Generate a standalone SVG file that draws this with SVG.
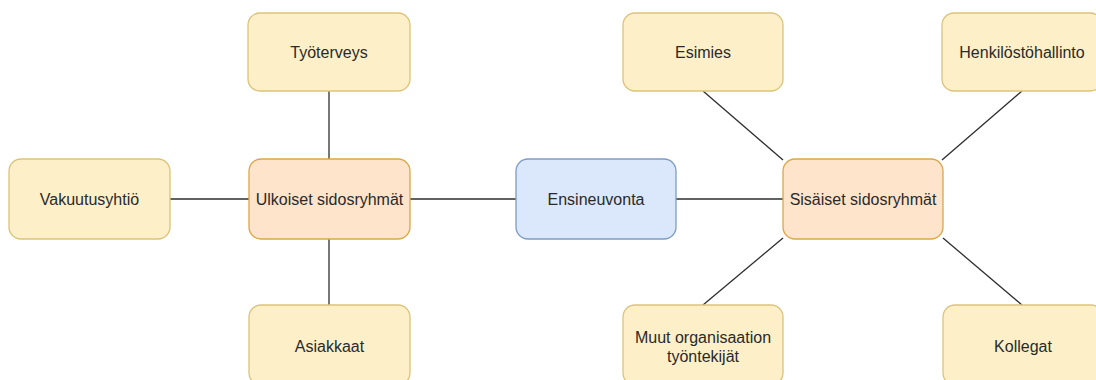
<svg xmlns="http://www.w3.org/2000/svg" width="1096" height="380" viewBox="0 0 1096 380">
<style>
.y{fill:#fdf0c9;stroke:#dcc37a;stroke-width:1.3}
.o{fill:#fde4cb;stroke:#dca64a;stroke-width:1.3}
.b{fill:#dbe8fb;stroke:#7f9cc4;stroke-width:1.3}
text{font-family:"Liberation Sans",Arial,sans-serif;font-size:16px;fill:#2a2a2a;text-anchor:middle;dominant-baseline:central}
.c line{stroke:#2e2e2e;stroke-width:1.3}
</style>
<rect width="1096" height="380" fill="#ffffff"/>
<g class="c" id="connectors">
<line x1="329" y1="91" x2="329" y2="159"/>
<line x1="170" y1="199" x2="249" y2="199"/>
<line x1="410" y1="199" x2="516" y2="199"/>
<line x1="676" y1="199" x2="783" y2="199"/>
<line x1="329" y1="239" x2="329" y2="305"/>
<line x1="703" y1="91" x2="783" y2="160"/>
<line x1="1022" y1="91" x2="942" y2="160"/>
<line x1="703" y1="305" x2="783" y2="238"/>
<line x1="943" y1="238" x2="1022" y2="305"/>
</g>
<g id="tyoterveys"><rect class="y" x="248" y="13" width="162" height="78" rx="12"/><text x="329" y="52">Työterveys</text></g>
<g id="vakuutusyhtio"><rect class="y" x="9" y="159" width="161" height="80" rx="12"/><text x="89.5" y="199">Vakuutusyhtiö</text></g>
<g id="ulkoiset"><rect class="o" x="249" y="159" width="161" height="80" rx="12"/><text x="329.5" y="199">Ulkoiset sidosryhmät</text></g>
<g id="ensineuvonta"><rect class="b" x="516" y="159" width="160" height="80" rx="12"/><text x="596" y="199">Ensineuvonta</text></g>
<g id="sisaiset"><rect class="o" x="783" y="159" width="160" height="80" rx="12"/><text x="863" y="199">Sisäiset sidosryhmät</text></g>
<g id="esimies"><rect class="y" x="623" y="13" width="160" height="78" rx="12"/><text x="703" y="52">Esimies</text></g>
<g id="henkilosto"><rect class="y" x="942" y="13" width="160" height="78" rx="12"/><text x="1022" y="52">Henkilöstöhallinto</text></g>
<g id="asiakkaat"><rect class="y" x="249" y="305" width="161" height="80" rx="12"/><text x="329.5" y="346">Asiakkaat</text></g>
<g id="muut"><rect class="y" x="623" y="305" width="160" height="80" rx="12"/><text x="703" y="337">Muut organisaation</text><text x="703" y="356">työntekijät</text></g>
<g id="kollegat"><rect class="y" x="943" y="305" width="160" height="80" rx="12"/><text x="1023" y="346">Kollegat</text></g>
</svg>
